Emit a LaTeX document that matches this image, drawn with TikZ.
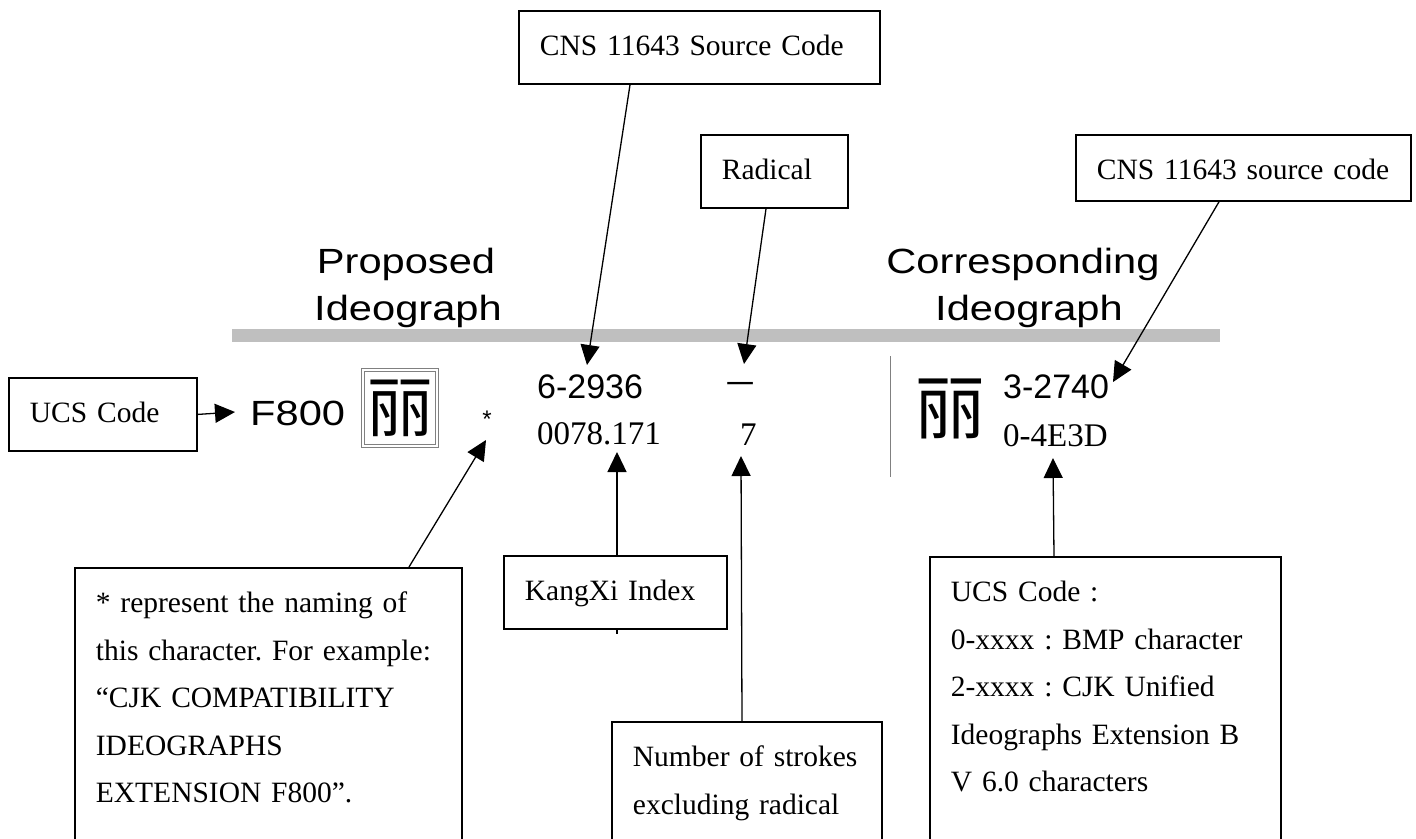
\documentclass[tikz,border=0pt]{standalone}
\usepackage{fontspec}
\setmainfont{Liberation Serif}
\newfontfamily\hdfont[FakeStretch=1.19]{Liberation Sans}
\newfontfamily\numfont{Liberation Sans}
\newfontfamily\cjkfont{Noto Sans CJK TC}
\usetikzlibrary{arrows.meta}
\setlength{\parindent}{0pt}
\frenchspacing
\newcommand{\nstrut}{\rule{0pt}{45pt}}
\newcommand{\nfoot}[1]{\rule[-#1pt]{0pt}{#1pt}}

\begin{document}
\begin{tikzpicture}[x = 1pt, y = -1pt,
  note/.style = {draw, line width = 1.8pt, fill = white, anchor = north west,
    inner xsep = 21pt, inner ysep = 0pt, align = left,
    font = \fontsize{29.5}{47.5}\selectfont},
  conn/.style = {line width = 1.3pt, -{Triangle[length = 20pt, width = 19pt]}},
  head/.style = {font = \hdfont\fontsize{35}{42}\selectfont, anchor = base},
  code/.style = {font = \numfont\fontsize{34}{40}\selectfont, anchor = base west, inner sep = 0pt},
  idx/.style = {font = \fontsize{33}{40}\selectfont, anchor = base west, inner sep = 0pt}]
\useasboundingbox (0, 0) rectangle (1416, 838);
\clip (0, 0) rectangle (1416, 838);

% table row
\fill[gray!50] (232, 329) rectangle (1220, 342);
\node[head] (prop) at (406, 273) {Proposed};
\node[head] (propb) at (408, 320) {Ideograph};
\node[head] (corrh) at (1023, 273) {Corresponding};
\node[head] (corrb) at (1029, 320) {Ideograph};

\node[head, anchor = base west, inner sep = 0pt] (f800) at (250, 425) {F800};
\node[draw = gray, double, double distance = 1.5pt, line width = 0.9pt,
  minimum width = 74pt, minimum height = 76pt, inner sep = 0pt,
  font = \cjkfont\fontsize{66}{66}\selectfont] (compat) at (400, 408) {丽};
\node[font = \numfont\fontsize{24}{24}\selectfont, anchor = base, inner sep = 0pt] (star) at (487, 427) {*};
\node[code] (cns6) at (537, 398) {6-2936};
\node[idx] (kxidx) at (537, 444) {0078.171};
\node[font = \cjkfont\fontsize{28}{28}\selectfont, inner sep = 0pt] (radchar) at (740, 388) {一};
\node[idx] (nstroke) at (740, 445) {7};
\draw[gray, line width = 1pt] (890, 356) -- (890, 477);
\node[font = \cjkfont\fontsize{70}{70}\selectfont, inner sep = 0pt] (corr) at (950, 409) {丽};
\node[code] (cns3) at (1003, 398) {3-2740};
\node[idx] (ucs4e) at (1003, 446) {0-4E3D};

% callouts
\node[note, text width = 146pt] (ucs) at (8, 377) {\nstrut UCS Code\nfoot{28}};
\node[note, text width = 319pt] (cnssrc) at (518, 10) {\nstrut CNS 11643 Source Code\nfoot{28}};
\node[note, text width = 105pt] (rad) at (700, 134) {\nstrut Radical\nfoot{28}};
\node[note, text width = 293pt] (cnsref) at (1075, 134) {\nstrut CNS 11643 source code\nfoot{21}};
\node[note, text width = 181pt] (kx) at (503, 555) {\nstrut KangXi Index\nfoot{28}};
\node[note, text width = 345pt] (naming) at (74, 567) {\nstrut * represent the naming of\\
  this character. For example:\\ “CJK COMPATIBILITY\\ IDEOGRAPHS\\ EXTENSION F800”.\nfoot{80}};
\node[note, text width = 228pt] (strokes) at (611, 721) {\nstrut Number of strokes\\
  excluding radical\nfoot{80}};
\node[note, text width = 309pt] (ucsnote) at (929, 556) {\nstrut UCS Code :\\
  0-xxxx : BMP character\\ 2-xxxx : CJK Unified\\ Ideographs Extension B\\ V 6.0 characters\nfoot{80}};

\coordinate (tucs) at (235, 412);
\coordinate (tsrc) at (587, 365);
\coordinate (trad) at (744, 364);
\coordinate (tref) at (1113, 382);
\coordinate (tstar) at (486, 440);
\coordinate (tkx) at (617, 452);
\coordinate (tstk) at (741, 456);
\coordinate (tucsn) at (1053, 458);

\draw[conn] (ucs.east) -- (tucs);
\draw[conn] ([xshift = 112pt]cnssrc.south west) -- (tsrc);
\draw[conn] ([xshift = 66pt]rad.south west) -- (trad);
\draw[conn] ([xshift = 144pt]cnsref.south west) -- (tref);
\draw[conn] ([xshift = 335pt]naming.north west) -- (tstar);
\draw[conn] ([xshift = 114pt]kx.north west) -- (tkx);
\draw[line width = 1.3pt] (kx.south -| tkx) -- ++(0, 4);
\draw[conn] ([xshift = 131pt]strokes.north west) -- (tstk);
\draw[conn] ([xshift = 125pt]ucsnote.north west) -- (tucsn);
\end{tikzpicture}
\end{document}
